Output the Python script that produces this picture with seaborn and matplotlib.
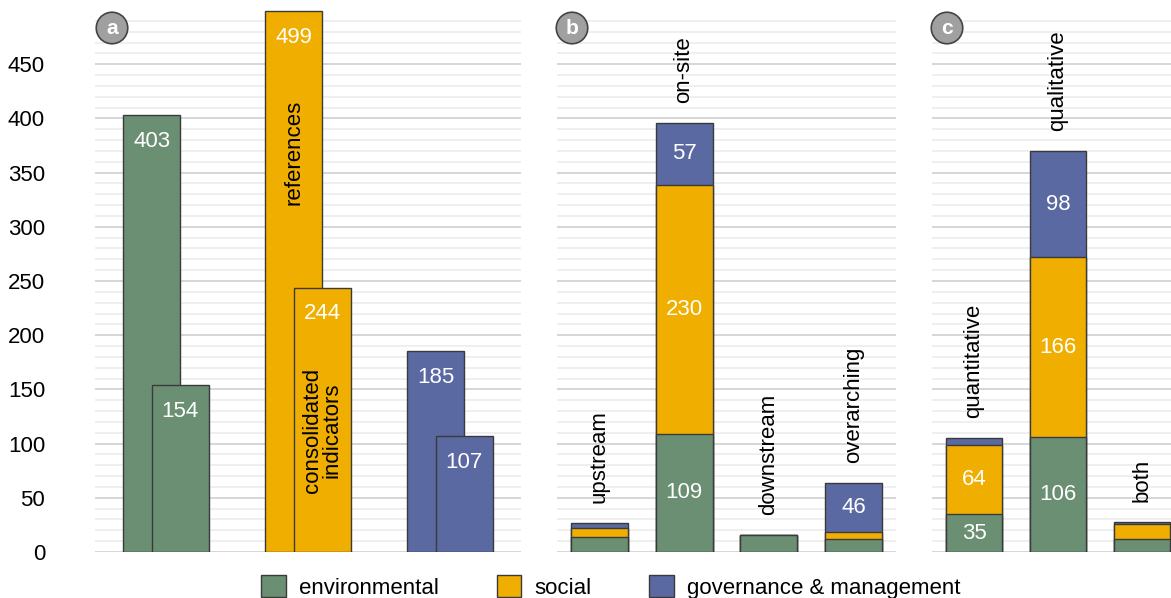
import numpy as np
import matplotlib.pyplot as plt
from matplotlib.patches import Patch
import seaborn as sns

# panel a: references vs consolidated indicators per dimension
dimensions = ["environmental", "social", "governance & management"]
references = [403, 499, 185]
indicators = [154, 244, 107]

# panel b: position in the value chain
stages = ["upstream", "on-site", "downstream", "overarching"]
stage_env = [14, 109, 16, 12]
stage_soc = [8, 230, 0, 6]
stage_gov = [5, 57, 0, 46]

# panel c: type of indicator
types = ["quantitative", "qualitative", "both"]
type_env = [35, 106, 12]
type_soc = [64, 166, 14]
type_gov = [6, 98, 2]

colors = {"environmental": "#6a8f72", "social": "#f0ae00",
          "governance & management": "#5b69a2"}
edge = "#3a3a3a"

sns.set_style("white")
plt.rcParams["font.family"] = ["Liberation Sans", "DejaVu Sans"]
plt.rcParams["text.color"] = "black"
FS = 16
PX = 0.72  # points per pixel at dpi 100
W, H = 1171, 598

fig = plt.figure(figsize=(W / 100, H / 100), dpi=100)


def add_axes(x0, x1):
    return fig.add_axes([x0 / W, (H - 552) / H, (x1 - x0) / W, 542 / H])


def style(ax, show_labels):
    ax.set_ylim(0, 500)
    ax.set_yticks(range(0, 500, 50))
    ax.set_yticks(range(0, 500, 10), minor=True)
    ax.grid(which="minor", axis="y", color="#ececec", lw=1.2)
    ax.grid(which="major", axis="y", color="#d0d0d0", lw=1.2)
    ax.set_axisbelow(True)
    sns.despine(ax=ax, left=True, bottom=True)
    ax.tick_params(axis="both", which="both", length=0)
    ax.set_xticks([])
    ax.set_xlabel("")
    ax.set_ylabel("")
    ax.tick_params(axis="y", labelsize=FS, pad=36, labelcolor="black",
                   labelleft=show_labels)


ax_a = add_axes(95, 521)
ax_b = add_axes(557, 896)
ax_c = add_axes(932, 1184)

# panel a
pos = np.arange(len(dimensions))
for offset, vals in [(-0.1, references), (0.1, indicators)]:
    sns.barplot(x=pos + offset, y=vals, hue=dimensions, palette=colors,
                native_scale=True, width=0.4, dodge=False, legend=False,
                saturation=1, edgecolor=edge, linewidth=1, ax=ax_a)
    for x, v in zip(pos + offset, vals):
        ax_a.annotate(str(v), (x, v), xytext=(0, -26 * PX), textcoords="offset points",
                      ha="center", va="center", color="white", fontsize=FS)
ax_a.set_xlim(-0.5, 2.5)
ax_a.annotate("references", (1 - 0.1, references[1]), xytext=(0, -89 * PX),
              textcoords="offset points", rotation=90, ha="center", va="top", fontsize=FS)
ax_a.annotate("consolidated\nindicators", (1 + 0.1, indicators[1]), xytext=(0, -80 * PX),
              textcoords="offset points", rotation=90, ha="center", va="top",
              fontsize=FS, linespacing=0.85)
style(ax_a, True)


def stacked(ax, cats, env, soc, gov):
    env, soc, gov = np.array(env), np.array(soc), np.array(gov)
    layers = [(env + soc + gov, colors["governance & management"]),
              (env + soc, colors["social"]),
              (env, colors["environmental"])]
    for heights, c in layers:
        sns.barplot(x=cats, y=heights, color=c, width=0.67, saturation=1,
                    edgecolor=edge, linewidth=1, ax=ax)
    for i in range(len(cats)):
        bottom = 0
        for seg in (env[i], soc[i], gov[i]):
            if seg >= 20:
                ax.text(i, bottom + seg / 2, str(seg), ha="center", va="center",
                        color="white", fontsize=FS)
            bottom += seg
        ax.annotate(cats[i], (i, bottom), xytext=(0, 20 * PX),
                    textcoords="offset points", rotation=90, ha="center",
                    va="bottom", fontsize=FS)
    ax.set_xlim(-0.5, len(cats) - 0.5)


stacked(ax_b, stages, stage_env, stage_soc, stage_gov)
style(ax_b, False)
stacked(ax_c, types, type_env, type_soc, type_gov)
style(ax_c, False)

# panel letters
for letter, x in zip("abc", [112, 572, 947]):
    fig.text(x / W, 1 - 28 / H, letter, ha="center", va="center", color="white",
             fontsize=15, fontweight="bold",
             bbox=dict(boxstyle="circle,pad=0.3", fc="#a0a0a0", ec="#444444", lw=1.2))

handles = [Patch(facecolor=colors[d], edgecolor=edge, label=d) for d in dimensions]
fig.legend(handles=handles, loc="center", bbox_to_anchor=(611 / W, 1 - 587 / H), ncol=3,
           frameon=False, fontsize=FS, handlelength=1.1, handleheight=1.1,
           handletextpad=0.6, columnspacing=2.6)

fig.savefig("out.png", dpi=100)
